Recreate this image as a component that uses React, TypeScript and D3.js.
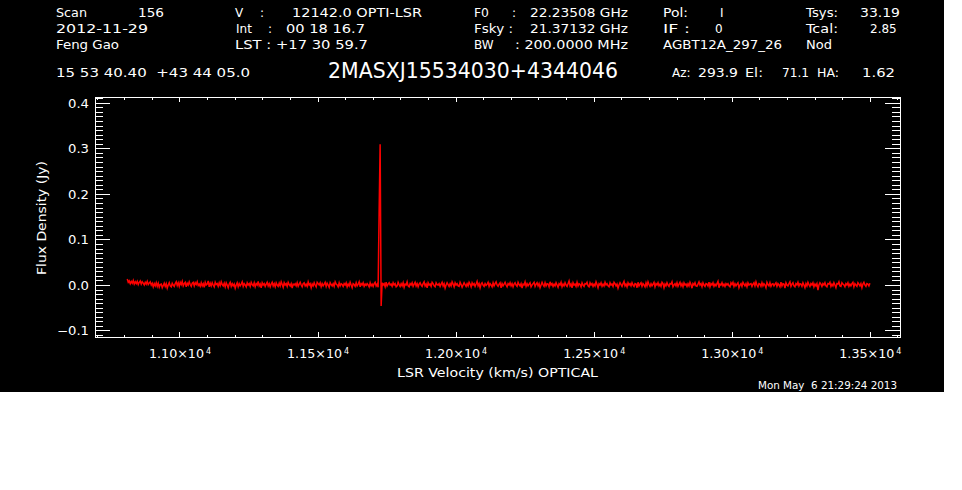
import * as d3 from "d3";
import React from "react";

// spectrum channels: first channel velocity and channel width (km/s)
const velocityStart = 10809;
const channelWidth = 3.62;

// flux density per channel, in mJy
const fluxMilliJy = [
  14, 7, 10, 4, 9, 5, 11, 3, 8, 4, 9, 2, 7, 10, 3, 8, 5, 1, 7, 3, 9, 2, 5, 8,
  1, 5, -3, 4, -1, 6, -2, 5, -4, 2, 3, -5, 0, 5, -2, 4, -6, 1, 6, -1, -3, 5, 1, -2,
  4, 8, 0, 6, -2, 7, 2, 9, -1, 4, 7, -3, 5, 1, 8, 2, -2, 5, 7, -1, 6, 2, 8, 0,
  3, -2, 6, -1, 4, -4, 7, 1, 3, 10, -3, 5, -1, 6, 1, -3, 7, 2, 4, -2, 6, 0, 8, 2,
  -1, 5, -3, 6, 1, -5, 3, 7, -2, 4, -1, 3, -6, 1, 6, -3, 4, -1, 3, 8, -2, 4, 1, -3,
  6, 1, 4, -2, 7, 2, -1, 6, -3, 4, 1, 9, -1, 3, -5, 6, 1, 4, -2, 3, 7, -1, 4, -3,
  3, 7, -1, 4, -3, 6, 1, -2, 5, -1, 8, 2, -4, 6, 1, 4, -2, 7, 2, -1, 4, -6, 3, 1,
  4, -1, 6, -2, 3, 7, 1, -3, 4, 6, -1, 3, -2, 8, 1, 4, -5, 3, -1, 6, 1, -3, 7, 4,
  1, 6, -3, 4, -1, 3, 7, -2, 5, 1, -4, 6, 2, -1, 4, -2, 8, 3, 1, -3, 6, -1, 4, 2,
  -2, 4, 1, 6, -3, 3, -1, 7, 1, -5, 4, 2, -2, 6, -1, 3, 8, -3, 4, 1, 6, -2, 3, 0,
  4, 1, -3, 6, -1, 3, -2, 4, 7, -1, 3, -4, 167, 310, -45, 6, 1, 4, -3, 7, -1, 3, 6, 1,
  3, -2, 6, 1, 4, -3, -1, 7, 2, -2, 4, -1, 6, -4, 3, 1, 8, -1, -3, 4, 1, 6, -2, 3,
  7, -1, 4, -3, 3, 6, 1, -2, 4, 8, -1, 3, -5, 6, 1, 3, -2, 7, 4, -1, -3, 6, 2, 1,
  4, -2, 3, 7, -1, 4, -6, 1, 6, 2, -2, 4, -1, 8, 3, -3, 6, 1, 4, -1, -2, 7, 2, -4,
  1, 6, 2, -2, 4, -1, 7, 3, -3, 6, 1, 4, -2, 3, 9, -1, 4, -5, 3, 6, 1, -2, 4, 0,
  3, 7, -2, 4, 1, -3, 6, -1, 4, 8, 1, -2, 3, 6, -5, 4, -1, 3, 7, 1, -3, 4, 1, 6,
  -1, 4, -3, 3, 6, 1, -2, 7, 2, -1, 4, -6, 3, 1, 8, -2, 4, -1, 3, 6, -3, 1, 4, 7,
  -2, 3, 6, -1, 4, -5, 1, 7, 2, -2, 6, -1, 4, 3, -3, 8, 1, 4, -2, 3, -1, 6, 1, -4,
  4, 1, 7, -3, 3, -1, 6, 1, -2, 4, 10, -1, 3, -5, 6, 1, 3, -2, 7, -1, 4, 2, -3, 6,
  1, -2, 4, 3, 7, -1, -3, 6, 1, 4, -2, 3, -1, 8, 2, -5, 4, 1, 6, -2, 3, -1, 7, 1,
  4, -1, -3, 6, 1, 3, -2, 7, 4, -1, 3, -6, 1, 6, 2, -2, 4, 9, -1, 3, -3, 6, 1, 4,
  -1, 6, 1, -2, 4, 3, -5, 7, -1, 3, 6, -2, 4, 1, -3, 6, -1, 8, 2, -2, 4, -1, 3, 7,
  -3, 4, 1, 6, -1, 3, -2, 7, 4, -5, 3, -1, 6, 1, -2, 4, 3, 8, -3, 1, 4, -1, 6, -2,
  3, 7, -1, 4, -3, 6, 1, 3, -2, 4, -1, 7, 2, -6, 4, 1, 6, -1, -2, 3, 8, 1, 4, -3,
  6, 1, -2, 4, 3, -1, 7, -3, 4, 1, 6, -2, 3, -1, 4, 9, -5, 3, 1, 6, -1, 3, -2, 4,
  1, 4, -1, -3, 6, 2, 7, -2, 4, -1, 3, 6, -5, 1, 4, -2, 7, 3, -1, 4, -3, 6, 1, 3,
  4, -2, 3, 6, -1, 8, 1, -3, 4, 3, -2, 6, -1, 4, 1, -5, 7, 2, -1, 6, -2, 3, 4, -1,
  3, 6, -2, 4, 1, -3, 7, -1, 4, 3, -6, 6, 1, -1, 4, 8, -2, 3, 6, -1, -3, 4, 1, 7,
  -1, 4, 3, -2, 6, 1, -5, 4, -1, 7, 2, -2, 4, 1, 6, -3, 3, -1, 4, -10, 1, 6, 3, -2,
  4, 1, 6, -1, -3, 4, 3, 7, -2, 3, -1, 6, 1, -5, 4, 3, 8, -1, -2, 6, 3, 1, -3, 4,
  1, 6, -2, 3, -1, 4, 7, -3, 4, 1, -2, 6, 3, -1, 4, -5, 3, 7, 1, -2, 4, 3, -1, 5,
];

const xMajorTicks = [11000, 11500, 12000, 12500, 13000, 13500];
const xTickMantissa = ["1.10", "1.15", "1.20", "1.25", "1.30", "1.35"];
const yMajorTicks = [-0.1, 0.0, 0.1, 0.2, 0.3, 0.4];
const yTickLabels = ["\u22120.1", "0.0", "0.1", "0.2", "0.3", "0.4"];

const sourceName = "2MASXJ15534030+4344046";
const xTitle = "LSR Velocity (km/s) OPTICAL";
const yTitle = "Flux Density (Jy)";
const dateStamp = "Mon May  6 21:29:24 2013";

const FONT = "'DejaVu Sans', 'Liberation Sans', sans-serif";

// header block: text with its place in the page (w = width it spans)
const header: { t: string; x: number; y: number; w?: number }[] = [
  { t: "Scan", x: 56, y: 17, w: 31 },
  { t: "156", x: 138, y: 17, w: 26 },
  { t: "2012-11-29", x: 56, y: 33, w: 92 },
  { t: "Feng Gao", x: 56, y: 49, w: 63 },
  { t: "V", x: 235, y: 17 },
  { t: ":", x: 260, y: 17 },
  { t: "12142.0 OPTI-LSR", x: 292, y: 17, w: 130 },
  { t: "Int", x: 236, y: 33 },
  { t: ":", x: 268, y: 33 },
  { t: "00 18 16.7", x: 286, y: 33, w: 79 },
  { t: "LST : +17 30 59.7", x: 235, y: 49, w: 133 },
  { t: "F0", x: 474, y: 17, w: 15 },
  { t: ":", x: 512, y: 17 },
  { t: "22.23508 GHz", x: 530, y: 17, w: 98 },
  { t: "Fsky :", x: 474, y: 33, w: 39 },
  { t: "21.37132 GHz", x: 530, y: 33, w: 98 },
  { t: "BW", x: 474, y: 49 },
  { t: ": 200.0000 MHz", x: 515, y: 49, w: 113 },
  { t: "Pol:", x: 663, y: 17, w: 25 },
  { t: "I", x: 720, y: 17 },
  { t: "IF :", x: 663, y: 33, w: 27 },
  { t: "0", x: 715, y: 33 },
  { t: "AGBT12A_297_26", x: 663, y: 49, w: 119 },
  { t: "Tsys:", x: 806, y: 17, w: 32 },
  { t: "33.19", x: 860, y: 17, w: 40 },
  { t: "Tcal:", x: 806, y: 33, w: 32 },
  { t: "2.85", x: 870, y: 33 },
  { t: "Nod", x: 806, y: 49, w: 26 },
  { t: "15 53 40.40  +43 44 05.0", x: 56, y: 77, w: 194 },
  { t: "Az:", x: 672, y: 77 },
  { t: "293.9", x: 698, y: 77, w: 40 },
  { t: "El:", x: 745, y: 77, w: 18 },
  { t: "71.1", x: 782, y: 77, w: 27 },
  { t: "HA:", x: 817, y: 77, w: 22 },
  { t: "1.62", x: 862, y: 77, w: 33 },
];

export default function App(): React.ReactElement {
  // plot frame in page pixels
  const left = 95;
  const right = 900;
  const top = 97;
  const bottom = 337;

  const x = d3.scaleLinear().domain([10692.2, 13607.6]).range([left, right]);
  const y = d3.scaleLinear().domain([-0.11318, 0.41383]).range([bottom, top]);

  const line = d3
    .line<number>()
    .x((_, i) => x(velocityStart + i * channelWidth))
    .y((d) => y(d / 1000));

  const xMinor = d3.range(10700, 13601, 100).filter((v) => v % 500 !== 0);
  const yMinor = d3.range(-11, 42).filter((v) => v % 10 !== 0).map((v) => v / 100);

  const white = "#ffffff";

  return (
    <svg
      height={490}
      style={{ left: 0, position: "absolute", top: 0 }}
      width={962}
    >
      <rect fill="#000000" height={392} width={944} x={0} y={0} />

      {/* header */}
      <g fill={white} fontFamily={FONT} fontSize={12}>
        {header.map((h, i) => (
          <text
            key={`h-${i}`}
            lengthAdjust={h.w ? "spacingAndGlyphs" : undefined}
            style={{ whiteSpace: "pre" }}
            textLength={h.w}
            x={h.x}
            y={h.y}
          >
            {h.t}
          </text>
        ))}
        <text
          fontSize={21}
          lengthAdjust="spacingAndGlyphs"
          textLength={290}
          x={328}
          y={78}
        >
          {sourceName}
        </text>
      </g>

      {/* spectrum */}
      <path
        d={line(fluxMilliJy) ?? ""}
        fill="none"
        stroke="#ff0000"
        strokeWidth={1.5}
      />

      {/* frame */}
      <rect
        fill="none"
        height={bottom - top}
        shapeRendering="crispEdges"
        stroke={white}
        width={right - left}
        x={left + 0.5}
        y={top + 0.5}
      />

      <g shapeRendering="crispEdges" stroke={white}>
        {/* x ticks, bottom and top */}
        {xMajorTicks.map((t) => (
          <g key={`xM-${t}`}>
            <line x1={x(t)} x2={x(t)} y1={bottom} y2={bottom - 5} />
            <line x1={x(t)} x2={x(t)} y1={top} y2={top + 5} />
          </g>
        ))}
        {xMinor.map((t) => (
          <g key={`xm-${t}`}>
            <line x1={x(t)} x2={x(t)} y1={bottom} y2={bottom - 2.5} />
            <line x1={x(t)} x2={x(t)} y1={top} y2={top + 2.5} />
          </g>
        ))}
        {/* y ticks, left and right */}
        {yMajorTicks.map((t) => (
          <g key={`yM-${t}`}>
            <line x1={left} x2={left + 15} y1={y(t)} y2={y(t)} />
            <line x1={right} x2={right - 15} y1={y(t)} y2={y(t)} />
          </g>
        ))}
        {yMinor.map((t) => (
          <g key={`ym-${t}`}>
            <line x1={left} x2={left + 8} y1={y(t)} y2={y(t)} />
            <line x1={right} x2={right - 8} y1={y(t)} y2={y(t)} />
          </g>
        ))}
      </g>

      {/* tick labels */}
      <g fill={white} fontFamily={FONT} fontSize={12}>
        {yMajorTicks.map((t, i) => (
          <text
            key={`yl-${t}`}
            lengthAdjust="spacingAndGlyphs"
            textAnchor="end"
            textLength={t < 0 ? 32 : 21}
            x={89}
            y={y(t) + 4.5}
          >
            {yTickLabels[i]}
          </text>
        ))}
        {xMajorTicks.map((t, i) => (
          <g key={`xl-${t}`}>
            <text
              lengthAdjust="spacingAndGlyphs"
              textLength={55}
              x={x(t) - 31}
              y={358}
            >
              {xTickMantissa[i]}
              {"\u00d710"}
            </text>
            <text fontSize={8} x={x(t) + 26} y={354}>
              4
            </text>
          </g>
        ))}
      </g>

      {/* axis titles */}
      <g fill={white} fontFamily={FONT} fontSize={12}>
        <text
          lengthAdjust="spacingAndGlyphs"
          textAnchor="middle"
          textLength={201}
          x={(left + right) / 2}
          y={377}
        >
          {xTitle}
        </text>
        <text
          fontSize={13}
          lengthAdjust="spacingAndGlyphs"
          textAnchor="middle"
          textLength={114}
          transform={`translate(46,218) rotate(-90)`}
        >
          {yTitle}
        </text>
      </g>

      <text
        fill={white}
        fontFamily={FONT}
        fontSize={10}
        lengthAdjust="spacingAndGlyphs"
        style={{ whiteSpace: "pre" }}
        textLength={139}
        x={758}
        y={389}
      >
        {dateStamp}
      </text>
    </svg>
  );
}
